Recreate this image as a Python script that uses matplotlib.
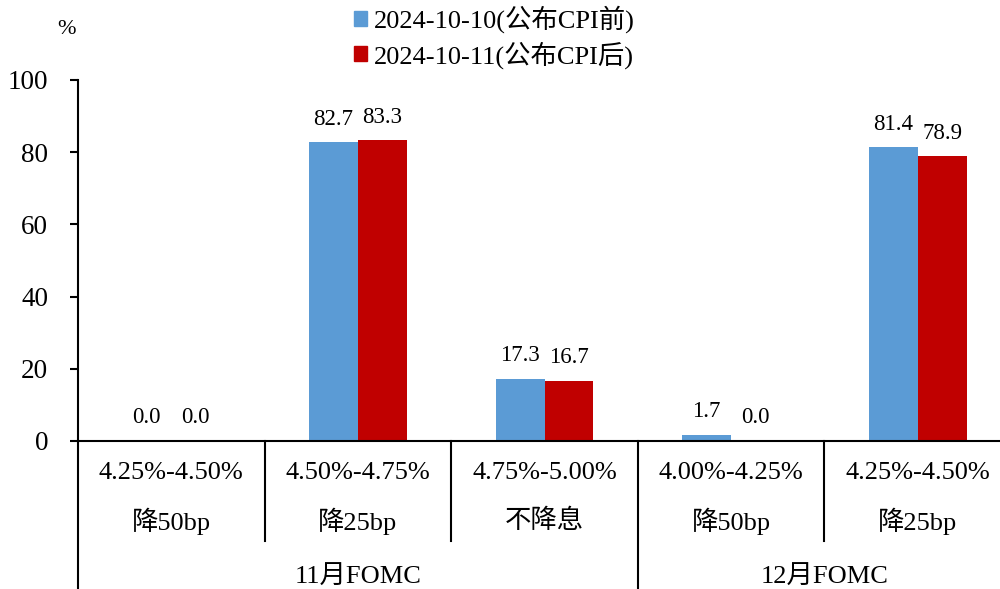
import numpy as np
import matplotlib
matplotlib.use("Agg")
import matplotlib.pyplot as plt
from matplotlib.patches import Patch
from matplotlib.lines import Line2D

plt.rcParams['font.family'] = ['Liberation Serif', 'Noto Sans CJK SC']
plt.rcParams['axes.unicode_minus'] = False

# FOMC 利率区间概率
rate_ranges = ['4.25%-4.50%', '4.50%-4.75%', '4.75%-5.00%', '4.00%-4.25%', '4.25%-4.50%']
actions = ['降50bp', '降25bp', '不降息', '降50bp', '降25bp']
meetings = ['11月FOMC', '12月FOMC']
meeting_span = [(0, 2), (3, 4)]
before_cpi = [0.0, 82.7, 17.3, 1.7, 81.4]
after_cpi = [0.0, 83.3, 16.7, 0.0, 78.9]
series_names = ['2024-10-10(公布CPI前)', '2024-10-11(公布CPI后)']

blue = '#5B9BD5'
red = '#C00000'

fig = plt.figure(figsize=(10, 5.89), dpi=100)
ax = fig.add_axes([0.078, 0.2513, 0.933, 0.6129])

x = np.arange(len(rate_ranges))
w = 0.2625
b1 = ax.bar(x - w / 2, before_cpi, w, color=blue)
b2 = ax.bar(x + w / 2, after_cpi, w, color=red)

for bars, vals in ((b1, before_cpi), (b2, after_cpi)):
    for r, v in zip(bars, vals):
        ax.annotate(f'{v:.1f}', (r.get_x() + r.get_width() / 2, v),
                    xytext=(0, 9), textcoords='offset points',
                    ha='center', va='bottom', fontsize=16.5)

ax.set_xlim(-0.5, len(x) - 0.5)
ax.set_ylim(0, 100)
ax.set_yticks(range(0, 101, 20))
ax.tick_params(axis='y', direction='out', length=5.5, width=1.5, labelsize=19.5, pad=16)
ax.set_xticks([])
for s in ('top', 'right'):
    ax.spines[s].set_visible(False)
ax.spines['left'].set_linewidth(1.5)
ax.spines['bottom'].set_linewidth(1.5)

# 多层分类轴
tr = ax.get_xaxis_transform()
for i in range(len(x)):
    ax.text(i, -0.088, rate_ranges[i], transform=tr, ha='center', va='center', fontsize=19)
    ax.text(i, -0.222, actions[i], transform=tr, ha='center', va='center', fontsize=19)
for i in range(1, len(x)):
    bottom = -0.41 if i == 3 else -0.277
    ax.add_line(Line2D([i - 0.5, i - 0.5], [0, bottom], transform=tr,
                       color='black', lw=1.5, clip_on=False))
ax.add_line(Line2D([-0.5, -0.5], [0, -0.41], transform=tr,
                   color='black', lw=1.5, clip_on=False))
for name, (a, b) in zip(meetings, meeting_span):
    ax.text((a + b) / 2, -0.377, name, transform=tr, ha='center', va='center', fontsize=19)

fig.text(0.067, 1 - 30 / 589, '%', ha='center', va='center', fontsize=16)

handles = [Patch(color=blue), Patch(color=red)]
fig.legend(handles, series_names, loc='center', bbox_to_anchor=(0.494, 0.937),
           frameon=False, fontsize=19, handlelength=0.5, handleheight=0.5,
           handletextpad=0.25, labelspacing=0.3, borderpad=0)

fig.savefig('out.png', dpi=100)
